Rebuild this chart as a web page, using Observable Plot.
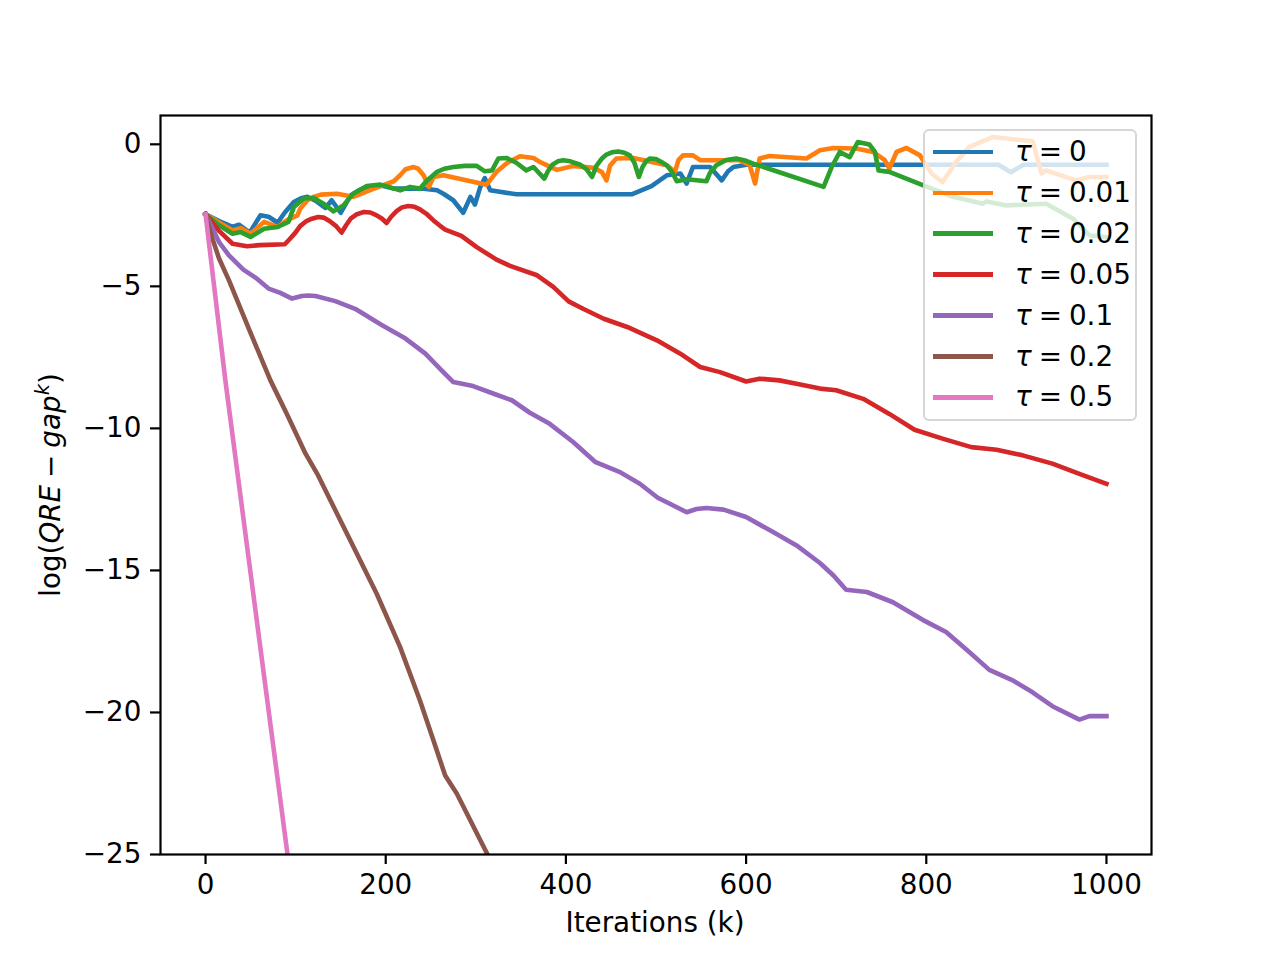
<!DOCTYPE html>
<html>
<head>
<meta charset="utf-8">
<script src="https://cdn.jsdelivr.net/npm/d3@7"></script>
<script src="https://cdn.jsdelivr.net/npm/@observablehq/plot@0.6"></script>
<style>
  html, body { margin: 0; padding: 0; background: #fff; }
  #wrap { position: relative; width: 1280px; height: 960px; font-family: "DejaVu Sans", sans-serif; color: #000; }
  #chart svg { display: block; }
  .xlabel { position: absolute; left: 655px; top: 923px; transform: translate(-50%, -50%); font-size: 27.8px; white-space: nowrap; line-height: 1; }
  .ylabel { position: absolute; left: 51px; top: 485px; transform: translate(-50%, -50%) rotate(-90deg); font-size: 27.8px; white-space: nowrap; line-height: 1; }
  .ylabel sup { font-size: 0.7em; font-style: italic; vertical-align: 0.55em; line-height: 0; }
  .legend { position: absolute; left: 923px; top: 129px; width: 214px; height: 292px; box-sizing: border-box;
            background: rgba(255,255,255,0.8); border: 2px solid rgba(204,204,204,0.8); border-radius: 6px; }
  .legend .row { position: absolute; left: 0; height: 30px; }
  .legend .sw { position: absolute; left: 8px; width: 60px; height: 4.6px; top: 12.7px; }
  .legend .lab { position: absolute; left: 90px; top: 0; line-height: 30px; font-size: 27.8px; white-space: nowrap; }
</style>
</head>
<body>
<div id="wrap">
  <div id="chart"></div>
  <div class="xlabel">Iterations (k)</div>
  <div class="ylabel">log(<i>QRE</i>&#8197;−&#8197;<i>gap</i><sup>k</sup>)</div>
  <div class="legend" id="legend"></div>
</div>
<script>
// ---- data ----
const seriesNames = ["0", "0.01", "0.02", "0.05", "0.1", "0.2", "0.5"];
const colors = ["#1f77b4", "#ff7f0e", "#2ca02c", "#d62728", "#9467bd", "#8c564b", "#e377c2"];
const xTicks = [0, 200, 400, 600, 800, 1000];
const yTicks = [0, -5, -10, -15, -20, -25];

// tau = 0
const tau0K = [0, 15, 30, 37, 49, 55, 61, 70, 80, 88, 98, 106, 113, 122, 133, 140, 150, 161, 170, 179, 194, 209, 242, 257, 264, 275, 286, 294, 299, 305, 310, 316, 345, 473, 495, 512, 527, 534, 541, 560, 573, 580, 586, 600, 880, 894, 908, 1000];
const tau0V = [-2.46, -2.7, -2.91, -2.83, -3.11, -2.80, -2.50, -2.55, -2.76, -2.40, -2.03, -1.90, -1.85, -1.98, -2.24, -1.97, -2.41, -1.80, -1.62, -1.50, -1.44, -1.56, -1.56, -1.62, -1.74, -1.97, -2.41, -1.85, -2.12, -1.50, -1.19, -1.62, -1.76, -1.76, -1.47, -1.09, -1.03, -1.38, -0.80, -0.80, -1.27, -0.95, -0.80, -0.72, -0.72, -0.98, -0.72, -0.72];

// tau = 0.01
const tau001K = [0, 15, 30, 39, 50, 65, 80, 90, 102, 105, 113, 120, 128, 146, 164, 187, 209, 216, 222, 231, 236, 242, 248, 253, 264, 312, 323, 335, 349, 364, 371, 390, 408, 431, 440, 445, 449, 456, 475, 512, 521, 525, 530, 541, 549, 593, 604, 610, 615, 626, 667, 682, 697, 722, 741, 754, 759, 767, 778, 793, 806, 818, 833, 848, 874, 896, 918, 928, 933, 966, 981, 1000];
const tau001V = [-2.46, -2.75, -3.03, -2.95, -3.15, -2.73, -2.91, -2.68, -2.50, -2.27, -1.97, -1.85, -1.77, -1.74, -1.85, -1.56, -1.30, -1.09, -0.88, -0.80, -0.86, -1.09, -1.50, -1.15, -1.09, -1.42, -0.97, -0.65, -0.42, -0.48, -0.62, -0.90, -0.76, -0.83, -0.98, -1.27, -0.75, -0.50, -0.48, -0.74, -0.97, -0.55, -0.39, -0.39, -0.56, -0.56, -0.74, -1.38, -0.50, -0.41, -0.50, -0.21, -0.13, -0.15, -0.27, -0.56, -0.86, -0.27, -0.13, -0.39, -1.03, -1.33, -0.62, -0.09, 0.26, 0.18, 0.11, -1.03, -0.92, -1.27, -1.15, -1.15];

// tau = 0.02
const tau002K = [0, 15, 30, 39, 50, 65, 80, 92, 98, 109, 120, 131, 142, 153, 164, 179, 194, 216, 227, 238, 246, 257, 265, 275, 288, 301, 310, 318, 325, 334, 345, 356, 364, 376, 380, 385, 391, 397, 405, 416, 423, 429, 434, 440, 445, 451, 458, 465, 471, 476, 481, 485, 489, 493, 500, 506, 512, 518, 523, 534, 556, 560, 567, 578, 589, 600, 608, 686, 695, 704, 715, 724, 737, 743, 747, 759, 796, 830, 863, 867, 889, 933, 963, 981, 1000];
const tau002V = [-2.46, -2.85, -3.15, -3.09, -3.26, -2.97, -2.91, -2.73, -2.21, -1.91, -1.89, -2.09, -2.36, -2.15, -1.74, -1.47, -1.42, -1.62, -1.50, -1.56, -1.27, -0.97, -0.86, -0.80, -0.76, -0.76, -0.95, -0.92, -0.50, -0.48, -0.65, -0.92, -0.80, -1.21, -0.95, -0.72, -0.60, -0.56, -0.60, -0.72, -0.88, -1.15, -0.75, -0.50, -0.36, -0.28, -0.25, -0.30, -0.39, -0.65, -1.15, -0.80, -0.60, -0.50, -0.52, -0.62, -0.74, -0.98, -1.30, -1.23, -1.30, -1.00, -0.74, -0.55, -0.50, -0.58, -0.68, -1.50, -0.80, -0.27, -0.45, 0.08, -0.01, -0.27, -0.92, -0.97, -1.44, -1.85, -2.09, -2.01, -2.15, -2.09, -2.62, -3.20, -3.27];

// tau = 0.05
const tau005K = [0, 15, 30, 46, 60, 88, 93, 100, 105, 112, 118, 125, 131, 138, 145, 151, 156, 161, 168, 176, 183, 190, 196, 201, 206, 212, 218, 225, 232, 238, 246, 253, 260, 266, 284, 301, 323, 338, 368, 386, 403, 419, 442, 468, 501, 527, 549, 571, 600, 615, 637, 656, 682, 700, 730, 759, 787, 818, 850, 878, 907, 940, 970, 1000];
const tau005V = [-2.46, -3.05, -3.50, -3.59, -3.55, -3.52, -3.35, -3.10, -2.88, -2.70, -2.62, -2.56, -2.58, -2.71, -2.88, -3.11, -2.85, -2.62, -2.46, -2.38, -2.40, -2.50, -2.62, -2.77, -2.55, -2.35, -2.22, -2.17, -2.20, -2.29, -2.47, -2.68, -2.86, -3.00, -3.22, -3.62, -4.06, -4.28, -4.61, -5.02, -5.53, -5.79, -6.14, -6.43, -6.90, -7.37, -7.84, -8.02, -8.35, -8.25, -8.31, -8.43, -8.60, -8.66, -8.96, -9.49, -10.05, -10.36, -10.66, -10.75, -10.95, -11.24, -11.60, -11.95];

// tau = 0.1
const tau01K = [0, 15, 26, 42, 57, 70, 83, 96, 107, 114, 122, 144, 166, 196, 222, 244, 262, 275, 297, 320, 340, 360, 382, 408, 433, 460, 482, 502, 534, 545, 556, 575, 600, 630, 656, 682, 697, 711, 734, 763, 796, 822, 848, 870, 896, 918, 940, 970, 981, 1000];
const tau01V = [-2.46, -3.44, -3.91, -4.41, -4.73, -5.08, -5.23, -5.43, -5.34, -5.32, -5.34, -5.52, -5.79, -6.37, -6.84, -7.37, -7.96, -8.37, -8.51, -8.78, -9.01, -9.45, -9.84, -10.48, -11.19, -11.54, -11.95, -12.44, -12.95, -12.84, -12.80, -12.86, -13.12, -13.65, -14.12, -14.74, -15.18, -15.68, -15.76, -16.12, -16.74, -17.17, -17.88, -18.50, -18.87, -19.29, -19.78, -20.25, -20.13, -20.13];

// tau = 0.2
const tau02K = [0, 7, 15, 26, 48, 72, 90, 111, 124, 157, 190, 216, 238, 253, 266, 279, 313];
const tau02V = [-2.46, -3.26, -4.02, -4.79, -6.49, -8.31, -9.48, -10.89, -11.60, -13.71, -15.82, -17.70, -19.58, -20.99, -22.22, -22.86, -25.0];

// tau = 0.5
const tau05K = [0, 22, 50, 91];
const tau05V = [-2.46, -8.31, -15.1, -25.0];

const seriesK = [tau0K, tau001K, tau002K, tau005K, tau01K, tau02K, tau05K];
const seriesV = [tau0V, tau001V, tau002V, tau005V, tau01V, tau02V, tau05V];

// ---- chart ----
const fmt = d => (d < 0 ? "\u2212" + Math.abs(d) : String(d));

const lineMarks = seriesK.map((ks, i) =>
  Plot.line(ks.map((k, j) => ({k, v: seriesV[i][j]})), {
    x: "k", y: "v", stroke: colors[i], strokeWidth: 4.6,
    strokeLinejoin: "round", strokeLinecap: "square", clip: true
  })
);

const chart = Plot.plot({
  width: 1280, height: 960,
  marginLeft: 160, marginRight: 129, marginTop: 115, marginBottom: 106,
  x: {domain: [-50, 1050]},
  y: {domain: [-25, 1.014]},
  style: {fontFamily: "DejaVu Sans", fontSize: "27.8px", background: "white", color: "black"},
  marks: [
    ...lineMarks,
    Plot.frame({stroke: "black", strokeWidth: 2.2}),
    Plot.axisX({ticks: xTicks, tickFormat: fmt, tickSize: 10, tickPadding: 10, strokeWidth: 2.2, fontSize: 27.8, label: null}),
    Plot.axisY({ticks: yTicks, tickFormat: fmt, tickSize: 10, tickPadding: 9, strokeWidth: 2.2, fontSize: 27.8, label: null})
  ]
});
document.getElementById("chart").appendChild(chart);

// ---- legend ----
const legend = document.getElementById("legend");
seriesNames.forEach((name, i) => {
  const row = document.createElement("div");
  row.className = "row";
  row.style.top = (6 + i * 40.9) + "px";
  row.style.width = "100%";
  const sw = document.createElement("div");
  sw.className = "sw";
  sw.style.background = colors[i];
  const lab = document.createElement("div");
  lab.className = "lab";
  lab.innerHTML = "<i>τ</i>&#8197;=&#8197;" + name;
  row.appendChild(sw);
  row.appendChild(lab);
  legend.appendChild(row);
});
</script>
</body>
</html>
